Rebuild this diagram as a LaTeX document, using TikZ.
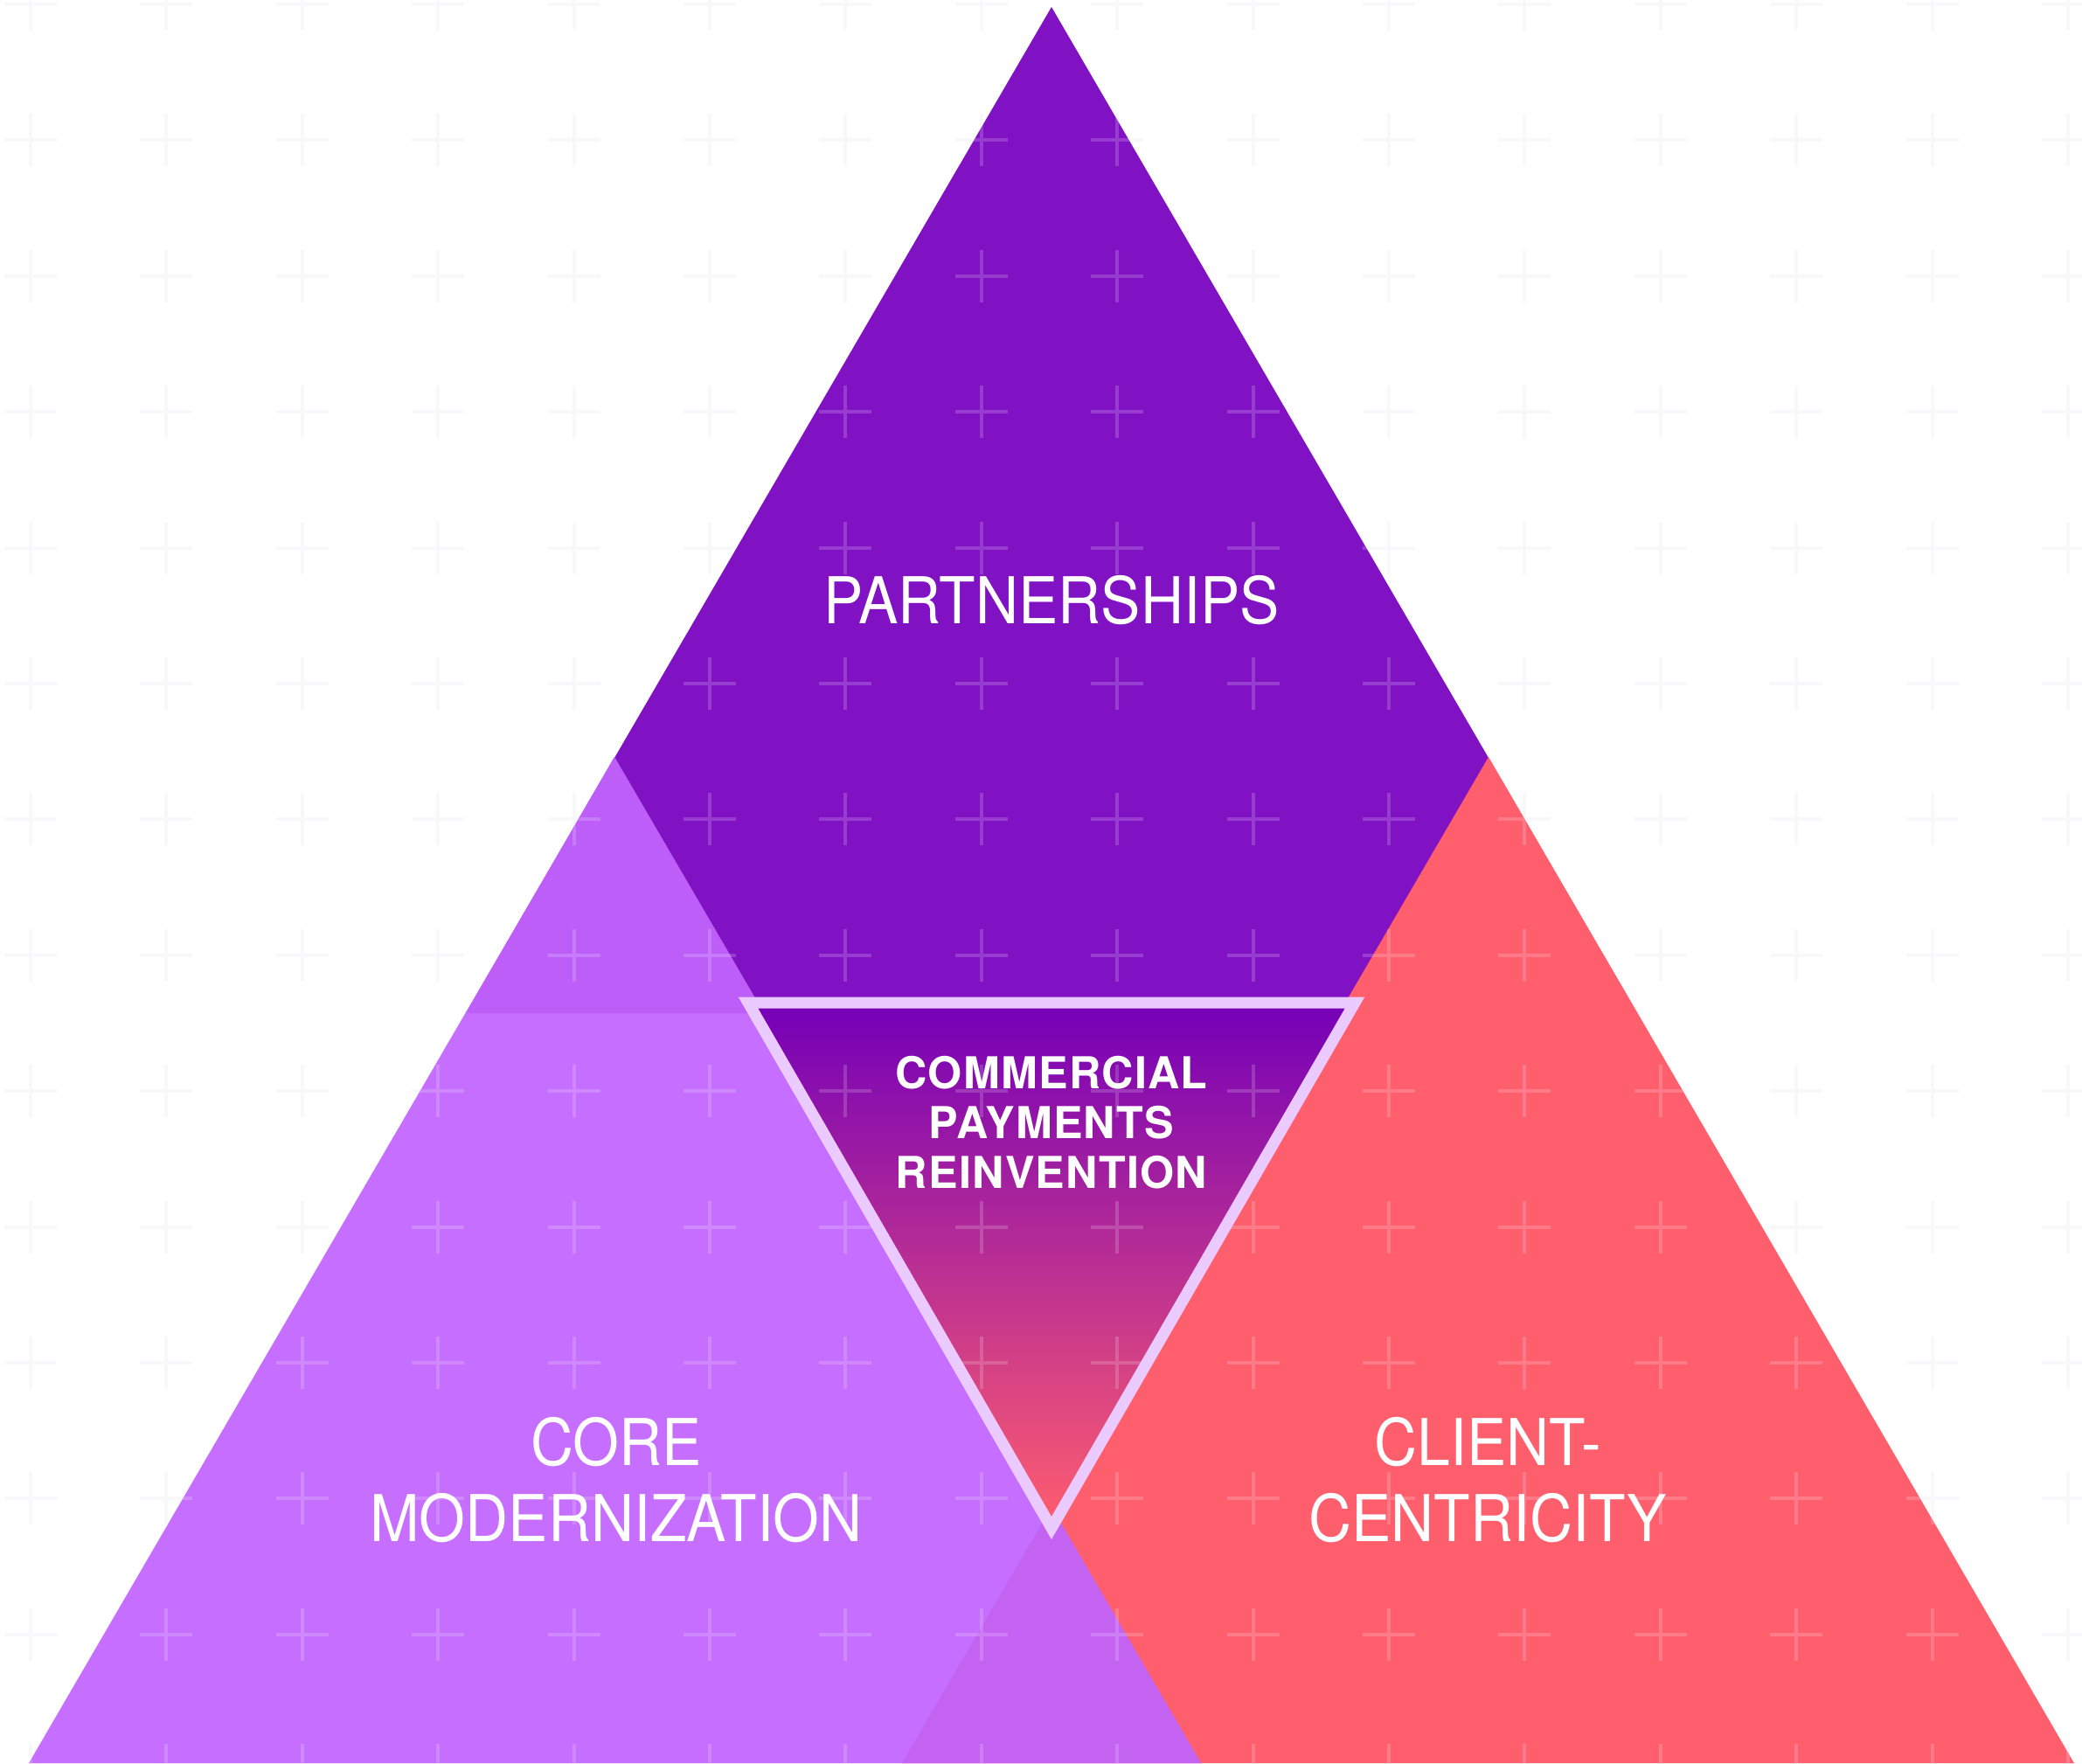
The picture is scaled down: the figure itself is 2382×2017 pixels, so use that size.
\documentclass[tikz,border=0pt]{standalone}
\usepackage{fontspec}
\setmainfont{TeX Gyre Heros}
\newfontfamily\lightfont[FakeStretch=0.92]{TeX Gyre Heros}
\usetikzlibrary{positioning}

\definecolor{partnerpurple}{HTML}{8012C4}
\definecolor{corepurple}{HTML}{C66EFF}
\definecolor{clientcoral}{HTML}{FF5F6D}
\definecolor{topleftmix}{HTML}{BD5EF9}
\definecolor{bottommix}{HTML}{C462F2}
\definecolor{holetop}{HTML}{7400B8}
\definecolor{holebottom}{HTML}{FF5E6E}
\definecolor{rimlavender}{HTML}{EBCBFF}
\definecolor{gridgrey}{HTML}{F8F7FA}

\begin{document}
\begin{tikzpicture}[x=0.01cm,y=-0.01cm,
    gridplus/.style={line width=0.04cm},
    caption/.style={text=white,inner sep=0pt,anchor=north,align=center,
        font=\lightfont\fontsize{21}{24.75}\selectfont},
    corecaption/.style={text=white,inner sep=0pt,anchor=north,align=center,
        font=\bfseries\addfontfeatures{LetterSpace=2.5}\fontsize{14.3}{16.2}\selectfont}]

    % page of 2382 x 2017, white
    \useasboundingbox (0,0) rectangle (2382,2017);
    \fill[white] (0,0) rectangle (2382,2017);

    % faint grid of crosses on the page
    \foreach \i in {0,...,15}
        \foreach \j in {0,...,13}
            \draw[gridplus,gridgrey] (35+155.4*\i,5+155.4*\j) +(-30,0) -- +(30,0) +(0,-30) -- +(0,30);

    % top triangle, partnerships
    \fill[partnerpurple] (1203,8) -- (533,1159) -- (1873,1159) -- cycle;
    % right triangle, client-centricity
    \fill[clientcoral] (1703,866) -- (1032,2017) -- (2373,2017) -- cycle;
    % left triangle, core modernization
    \fill[corepurple] (703,866) -- (33,2017) -- (1374,2017) -- cycle;

    % overlaps top/left and left/right
    \fill[topleftmix] (703,866) -- (533,1159) -- (874,1159) -- cycle;
    \fill[bottommix] (1203,1724) -- (1032,2017) -- (1374,2017) -- cycle;

    % centre triangle, gradient from purple to coral
    \shade[top color=holetop,bottom color=holebottom] (856,1147) -- (1550,1147) -- (1203,1748) -- cycle;

    % light crosses on the coloured parts
    \begin{scope}
        \clip (1203,8) -- (33,2017) -- (2373,2017) -- cycle;
        \foreach \i in {0,...,15}
            \foreach \j in {0,...,13}
                \draw[gridplus,white,opacity=0.18] (35+155.4*\i,5+155.4*\j) +(-30,0) -- +(30,0) +(0,-30) -- +(0,30);
    \end{scope}

    % rim of the centre triangle
    \draw[rimlavender,line width=0.13cm] (856,1147) -- (1550,1147) -- (1203,1748) -- cycle;

    % labels
    \node[caption] (partnerships) at (1203,658) {PARTNERSHIPS};
    \node[caption] (core) at (705,1621) {CORE\\MODERNIZATION};
    \node[caption] (client) at (1702,1621) {CLIENT-\\CENTRICITY};
    \node[corecaption] (reinvention) at (1203,1208) {COMMERCIAL\\PAYMENTS\\REINVENTION};
\end{tikzpicture}
\end{document}
